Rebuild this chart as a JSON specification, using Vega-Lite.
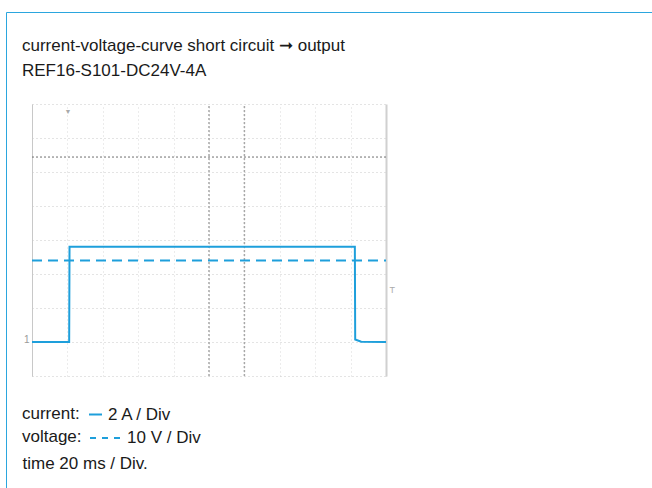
{
  "$schema": "https://vega.github.io/schema/vega-lite/v6.json",
  "width": 646,
  "height": 476,
  "autosize": {"type": "none"},
  "padding": {"left": 6, "top": 12, "right": 0, "bottom": 0},
  "background": "white",
  "config": {
    "font": "Liberation Sans",
    "view": {"stroke": "#2ba6de", "strokeWidth": 1, "strokeDash": [646, 1122, 476, 0]},
    "axis": {"ticks": false, "domain": false, "grid": false, "labelFont": "Liberation Sans", "labelFontSize": 9, "labelColor": "#9a9a9a", "gridColor": "#c8c8c8", "gridDash": [1, 3], "gridWidth": 1},
    "legend": {"orient": "none", "padding": 0, "titleOrient": "left", "titleAnchor": "end", "titleBaseline": "bottom", "titleFont": "Liberation Sans", "titleFontSize": 17, "titleFontWeight": "normal", "titleColor": "#1a1a1a", "titlePadding": 7, "labelFont": "Liberation Sans", "labelFontSize": 17, "labelColor": "#1a1a1a", "labelBaseline": "middle", "labelOffset": 4, "symbolType": "stroke", "symbolStrokeWidth": 2, "symbolStrokeColor": "#1e9fdb"}
  },
  "title": {
    "text": ["current-voltage-curve short circuit ➞ output", "REF16-S101-DC24V-4A"],
    "anchor": "start",
    "frame": "group",
    "orient": "top",
    "font": "Liberation Sans",
    "fontSize": 17,
    "fontWeight": "normal",
    "color": "#1a1a1a",
    "lineHeight": 25,
    "baseline": "top",
    "dx": 16,
    "offset": -68
  },
  "datasets": {
    "trace": [
      {"t": 0, "current": 0.0, "voltage": 24.0},
      {"t": 21.0, "current": 0.0, "voltage": 24.0},
      {"t": 21.2, "current": 5.6, "voltage": 24.0},
      {"t": 182.4, "current": 5.6, "voltage": 24.0},
      {"t": 182.6, "current": 0.15, "voltage": 24.0},
      {"t": 186, "current": 0.02, "voltage": 24.0},
      {"t": 200, "current": 0.0, "voltage": 24.0}
    ],
    "cursors": [{"t": 100}, {"t": 120}],
    "level": [{"current": 10.88}]
  },
  "data": {"name": "trace"},
  "resolve": {"scale": {"y": "independent"}},
  "layer": [
    {
      "layer": [
        {
          "data": {"name": "cursors"},
          "mark": {"type": "rule", "stroke": "#a8a8a8", "strokeWidth": 1.5, "strokeDash": [2, 2]},
          "encoding": {
            "x": {
              "field": "t", "type": "quantitative",
              "scale": {"domain": [0, 200], "range": [26, 380], "nice": false, "zero": false},
              "axis": {
                "orient": "top", "offset": -92,
                "values": [0, 20, 40, 60, 80, 100, 120, 140, 160, 180, 200],
                "grid": true, "gridColor": "#d9d9d9", "gridDash": [1, 3],
                "labelExpr": "datum.value == 20 ? '▼' : ''",
                "labelPadding": -10, "labelFontSize": 7, "labelColor": "#aaaaaa",
                "title": "time 20 ms / Div.",
                "titleX": 16, "titleY": 364, "titleAlign": "left", "titleAnchor": "start", "titleBaseline": "alphabetic", "titleAngle": 0,
                "titleFont": "Liberation Sans", "titleFontSize": 17, "titleFontWeight": "normal", "titleColor": "#1a1a1a"
              }
            },
            "y": {"datum": -2, "type": "quantitative"},
            "y2": {"datum": 14}
          }
        },
        {
          "data": {"name": "level"},
          "mark": {"type": "rule", "stroke": "#707070", "strokeWidth": 1, "strokeDash": [2, 2]},
          "encoding": {
            "y": {"field": "current", "type": "quantitative"},
            "x": {"datum": 0, "type": "quantitative"},
            "x2": {"datum": 200}
          }
        },
        {
          "mark": {"type": "line", "strokeWidth": 2, "interpolate": "linear"},
          "encoding": {
            "x": {"field": "t", "type": "quantitative"},
            "y": {
              "field": "current", "type": "quantitative",
              "scale": {"domain": [-2, 14], "range": [364, 92], "nice": false, "zero": false},
              "axis": {
                "orient": "left", "offset": -26,
                "domain": true, "domainColor": "#c8c8c8", "domainWidth": 1,
                "grid": true,
                "values": [-2, 0, 2, 4, 6, 8, 10, 12, 14],
                "labelExpr": "datum.value == 0 ? '1' : ''",
                "labelFontSize": 10, "labelPadding": 3, "labelBaseline": "alphabetic",
                "title": null
              }
            },
            "stroke": {
              "datum": "2 A / Div", "type": "nominal",
              "scale": {"range": ["#1e9fdb"]},
              "legend": {"title": "current:", "legendX": 16, "legendY": 394, "symbolSize": 169}
            }
          }
        }
      ]
    },
    {
      "mark": {"type": "line", "strokeWidth": 2, "stroke": "#1e9fdb"},
      "encoding": {
        "x": {"field": "t", "type": "quantitative"},
        "y": {
          "field": "voltage", "type": "quantitative",
          "scale": {"domain": [-10, 70], "range": [364, 92], "nice": false, "zero": false},
          "axis": {
            "orient": "right", "offset": -266,
            "domain": true, "domainColor": "#d0d0d0", "domainWidth": 2,
            "grid": false,
            "values": [15.3],
            "labelExpr": "'T'",
            "labelFontSize": 9, "labelColor": "#aaaaaa", "labelPadding": 3,
            "title": null
          }
        },
        "strokeDash": {
          "datum": "10 V / Div", "type": "nominal",
          "scale": {"range": [[10, 6]]},
          "legend": {
            "title": "voltage:", "legendX": 16, "legendY": 410, "symbolSize": 900,
            "symbolType": "M-1,0H-0.6M-0.2,0H0.2M0.6,0H1",
            "symbolStrokeColor": "#1e9fdb",
            "labelOffset": 6
          }
        }
      }
    }
  ]
}
